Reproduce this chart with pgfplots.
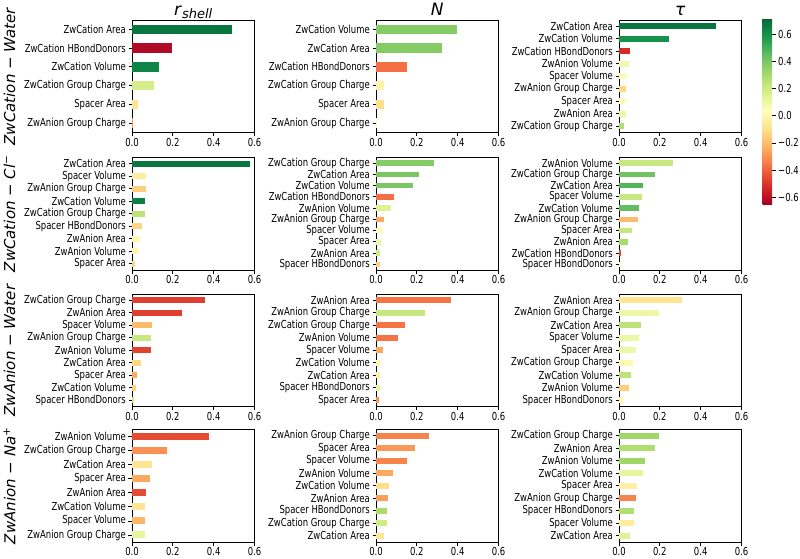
\documentclass[border=0pt]{standalone}
\usepackage{fontspec}
\setmainfont{DejaVu Sans}[ItalicFont={DejaVu Sans Oblique}]
\usepackage{pgfplots}
\pgfplotsset{compat=1.18}

\newcommand\sub[1]{\raisebox{-3pt}{\fontsize{13}{15}\selectfont\itshape #1}}

\pgfplotsset{
  colormap={RdYlGn}{rgb255=(165,0,38) rgb255=(215,48,39) rgb255=(244,109,67) rgb255=(253,174,97) rgb255=(254,224,139) rgb255=(255,255,191) rgb255=(217,239,139) rgb255=(166,217,106) rgb255=(102,189,99) rgb255=(26,152,80) rgb255=(0,104,55)},
  panel/.style={
    scale only axis, width=122.5pt, height=112.5pt, anchor=north west,
    xmin=0, xmax=0.6, xtick={0,0.2,0.4,0.6}, xticklabels={0.0,0.2,0.4,0.6},
    y dir=reverse, ymin=-0.5, ymax={#1-0.5}, ytick={0,1,2,3,4,5,6,7,8,9},
    tick align=outside, tick pos=left, major tick length=3.5pt,
    tick style={black, line width=0.8pt},
    axis line style={black, line width=0.8pt},
    tick label style={font=\fontsize{11}{13}\selectfont, xscale=0.77, text=black},
    xticklabel style={yshift=1.5pt},
    colormap name=RdYlGn,
    every axis title/.style={at={(0.5,1)}, anchor=base, yshift=5pt, font=\fontsize{17}{19}\selectfont},
    every axis y label/.style={at={(axis description cs:-1.0,0.5)}, anchor=center, rotate=90, font=\fontsize{15}{17}\selectfont},
  }
}

\newcommand\bb[3]{%
  \pgfmathsetmacro\cmval{min(1000,max(0,(#3+0.65)/1.37*1000))}%
  \edef\bbnext{\noexpand\addplot[xbar, bar shift=0pt, bar width=0.5, draw=none, color of colormap={\cmval}, fill=.] coordinates {(#1,#2)};}%
  \bbnext}

\begin{document}
\begin{tikzpicture}
\path[use as bounding box] (0,0) rectangle (800pt,-558pt);

% ---------------- Row 1: ZwCation - Water ----------------
\begin{axis}[panel=6, at={(132pt,-20pt)}, title={\textit{r}\sub{shell}},
  ylabel={\textit{ZwCation − Water}},
  yticklabels={ZwCation Area,ZwCation HBondDonors,ZwCation Volume,ZwCation Group Charge,Spacer Area,ZwAnion Group Charge}]
\bb{0.491}{0}{0.68}
\bb{0.195}{1}{-0.62}
\bb{0.133}{2}{0.64}
\bb{0.110}{3}{0.18}
\bb{0.028}{4}{-0.08}
\bb{0.006}{5}{-0.30}
\end{axis}

\begin{axis}[panel=6, at={(376pt,-20pt)}, title={\textit{N}},
  yticklabels={ZwCation Volume,ZwCation Area,ZwCation HBondDonors,ZwCation Group Charge,Spacer Area,ZwAnion Group Charge}]
\bb{0.397}{0}{0.38}
\bb{0.323}{1}{0.38}
\bb{0.151}{2}{-0.37}
\bb{0.041}{3}{-0.02}
\bb{0.041}{4}{-0.10}
\bb{0.005}{5}{0.00}
\end{axis}

\begin{axis}[panel=9, at={(619pt,-20pt)}, title={\textit{τ}},
  yticklabels={ZwCation Area,ZwCation Volume,ZwCation HBondDonors,ZwAnion Volume,Spacer Volume,ZwAnion Group Charge,Spacer Area,ZwAnion Area,ZwCation Group Charge}]
\bb{0.473}{0}{0.68}
\bb{0.246}{1}{0.60}
\bb{0.054}{2}{-0.52}
\bb{0.047}{3}{0.08}
\bb{0.039}{4}{0.05}
\bb{0.036}{5}{-0.12}
\bb{0.036}{6}{0.03}
\bb{0.033}{7}{0.10}
\bb{0.023}{8}{0.28}
\end{axis}

% ---------------- Row 2: ZwCation - Cl- ----------------
\begin{axis}[panel=9, at={(132pt,-157.5pt)},
  ylabel={\textit{ZwCation − Cl\textsuperscript{−}}},
  yticklabels={ZwCation Area,Spacer Volume,ZwAnion Group Charge,ZwCation Volume,ZwCation Group Charge,Spacer HBondDonors,ZwAnion Area,ZwAnion Volume,Spacer Area}]
\bb{0.579}{0}{0.68}
\bb{0.070}{1}{-0.05}
\bb{0.070}{2}{-0.15}
\bb{0.066}{3}{0.65}
\bb{0.062}{4}{0.25}
\bb{0.049}{5}{-0.13}
\bb{0.037}{6}{0.00}
\bb{0.031}{7}{0.00}
\bb{0.015}{8}{-0.12}
\end{axis}

\begin{axis}[panel=10, at={(376pt,-157.5pt)},
  yticklabels={ZwCation Group Charge,ZwCation Area,ZwCation Volume,ZwCation HBondDonors,ZwAnion Volume,ZwAnion Group Charge,Spacer Volume,Spacer Area,ZwAnion Area,Spacer HBondDonors}]
\bb{0.282}{0}{0.38}
\bb{0.211}{1}{0.40}
\bb{0.180}{2}{0.40}
\bb{0.089}{3}{-0.37}
\bb{0.072}{4}{0.15}
\bb{0.039}{5}{-0.25}
\bb{0.033}{6}{0.05}
\bb{0.025}{7}{0.10}
\bb{0.021}{8}{0.20}
\bb{0.018}{9}{-0.15}
\end{axis}

\begin{axis}[panel=10, at={(619pt,-157.5pt)},
  yticklabels={ZwAnion Volume,ZwCation Group Charge,ZwCation Area,Spacer Volume,ZwCation Volume,ZwAnion Group Charge,Spacer Area,ZwAnion Area,ZwCation HBondDonors,Spacer HBondDonors}]
\bb{0.266}{0}{0.22}
\bb{0.174}{1}{0.42}
\bb{0.116}{2}{0.48}
\bb{0.113}{3}{0.22}
\bb{0.099}{4}{0.45}
\bb{0.095}{5}{-0.20}
\bb{0.065}{6}{0.22}
\bb{0.044}{7}{0.30}
\bb{0.010}{8}{-0.45}
\bb{0.008}{9}{0.00}
\end{axis}

% ---------------- Row 3: ZwAnion - Water ----------------
\begin{axis}[panel=9, at={(132pt,-294pt)},
  ylabel={\textit{ZwAnion − Water}},
  yticklabels={ZwCation Group Charge,ZwAnion Area,Spacer Volume,ZwAnion Group Charge,ZwAnion Volume,ZwCation Area,Spacer Area,ZwCation Volume,Spacer HBondDonors}]
\bb{0.358}{0}{-0.48}
\bb{0.245}{1}{-0.48}
\bb{0.099}{2}{-0.20}
\bb{0.092}{3}{0.22}
\bb{0.092}{4}{-0.47}
\bb{0.044}{5}{-0.12}
\bb{0.024}{6}{-0.25}
\bb{0.018}{7}{-0.15}
\bb{0.011}{8}{0.20}
\end{axis}

\begin{axis}[panel=9, at={(376pt,-294pt)},
  yticklabels={ZwAnion Area,ZwAnion Group Charge,ZwCation Group Charge,ZwAnion Volume,Spacer Volume,ZwCation Volume,ZwCation Area,Spacer HBondDonors,Spacer Area}]
\bb{0.367}{0}{-0.36}
\bb{0.241}{1}{0.22}
\bb{0.143}{2}{-0.36}
\bb{0.108}{3}{-0.36}
\bb{0.034}{4}{-0.25}
\bb{0.021}{5}{0.00}
\bb{0.018}{6}{-0.03}
\bb{0.018}{7}{0.12}
\bb{0.015}{8}{-0.30}
\end{axis}

\begin{axis}[panel=9, at={(619pt,-294pt)},
  yticklabels={ZwAnion Area,ZwAnion Group Charge,ZwCation Area,Spacer Volume,Spacer Area,ZwCation Group Charge,ZwCation Volume,ZwAnion Volume,Spacer HBondDonors}]
\bb{0.308}{0}{-0.08}
\bb{0.196}{1}{0.10}
\bb{0.108}{2}{0.25}
\bb{0.096}{3}{0.10}
\bb{0.083}{4}{0.10}
\bb{0.068}{5}{0.00}
\bb{0.060}{6}{0.25}
\bb{0.049}{7}{-0.15}
\bb{0.021}{8}{0.00}
\end{axis}

% ---------------- Row 4: ZwAnion - Na+ ----------------
\begin{axis}[panel=8, at={(132pt,-429.5pt)},
  ylabel={\textit{ZwAnion − Na\textsuperscript{+}}},
  yticklabels={ZwAnion Volume,ZwCation Group Charge,ZwCation Area,Spacer Area,ZwAnion Area,ZwCation Volume,Spacer Volume,ZwAnion Group Charge}]
\bb{0.376}{0}{-0.45}
\bb{0.170}{1}{-0.30}
\bb{0.099}{2}{-0.08}
\bb{0.088}{3}{-0.25}
\bb{0.070}{4}{-0.45}
\bb{0.062}{5}{-0.08}
\bb{0.062}{6}{-0.22}
\bb{0.062}{7}{0.12}
\end{axis}

\begin{axis}[panel=9, at={(376pt,-429.5pt)},
  yticklabels={ZwAnion Group Charge,Spacer Area,Spacer Volume,ZwAnion Volume,ZwCation Volume,ZwAnion Area,Spacer HBondDonors,ZwCation Group Charge,ZwCation Area}]
\bb{0.261}{0}{-0.33}
\bb{0.192}{1}{-0.28}
\bb{0.154}{2}{-0.33}
\bb{0.085}{3}{-0.25}
\bb{0.062}{4}{-0.10}
\bb{0.059}{5}{-0.27}
\bb{0.054}{6}{0.30}
\bb{0.054}{7}{0.20}
\bb{0.041}{8}{-0.08}
\end{axis}

\begin{axis}[panel=9, at={(619pt,-429.5pt)},
  yticklabels={ZwCation Group Charge,ZwAnion Area,ZwAnion Volume,ZwCation Volume,Spacer Area,ZwAnion Group Charge,Spacer HBondDonors,Spacer Volume,ZwCation Area}]
\bb{0.194}{0}{0.32}
\bb{0.174}{1}{0.28}
\bb{0.129}{2}{0.32}
\bb{0.119}{3}{0.12}
\bb{0.086}{4}{-0.03}
\bb{0.083}{5}{-0.33}
\bb{0.075}{6}{0.28}
\bb{0.073}{7}{-0.05}
\bb{0.054}{8}{0.15}
\end{axis}

% ---------------- Colorbar ----------------
\begin{axis}[at={(762.7pt,-18pt)}, anchor=north west, scale only axis, width=9.3pt, height=186pt,
  hide axis, xmin=0, xmax=1, ymin=0, ymax=1,
  colormap name=RdYlGn, colorbar, point meta min=-0.65, point meta max=0.72,
  colorbar shift/.style={},
  colorbar style={at={(parent axis.north west)}, anchor=north west, scale only axis,
    width=9.3pt, height=186pt,
    ytick={-0.6,-0.4,-0.2,0,0.2,0.4,0.6},
    yticklabels={−0.6,−0.4,−0.2,0.0,0.2,0.4,0.6},
    yticklabel style={font=\fontsize{11}{13}\selectfont, xscale=0.77, text=black},
    ytick pos=right, yticklabel pos=right, tick align=outside, major tick length=3.5pt,
    tick style={black, line width=0.8pt}, axis line style={draw=none}}]
\addplot[draw=none] coordinates {(0,0)};
\end{axis}
\end{tikzpicture}
\end{document}
